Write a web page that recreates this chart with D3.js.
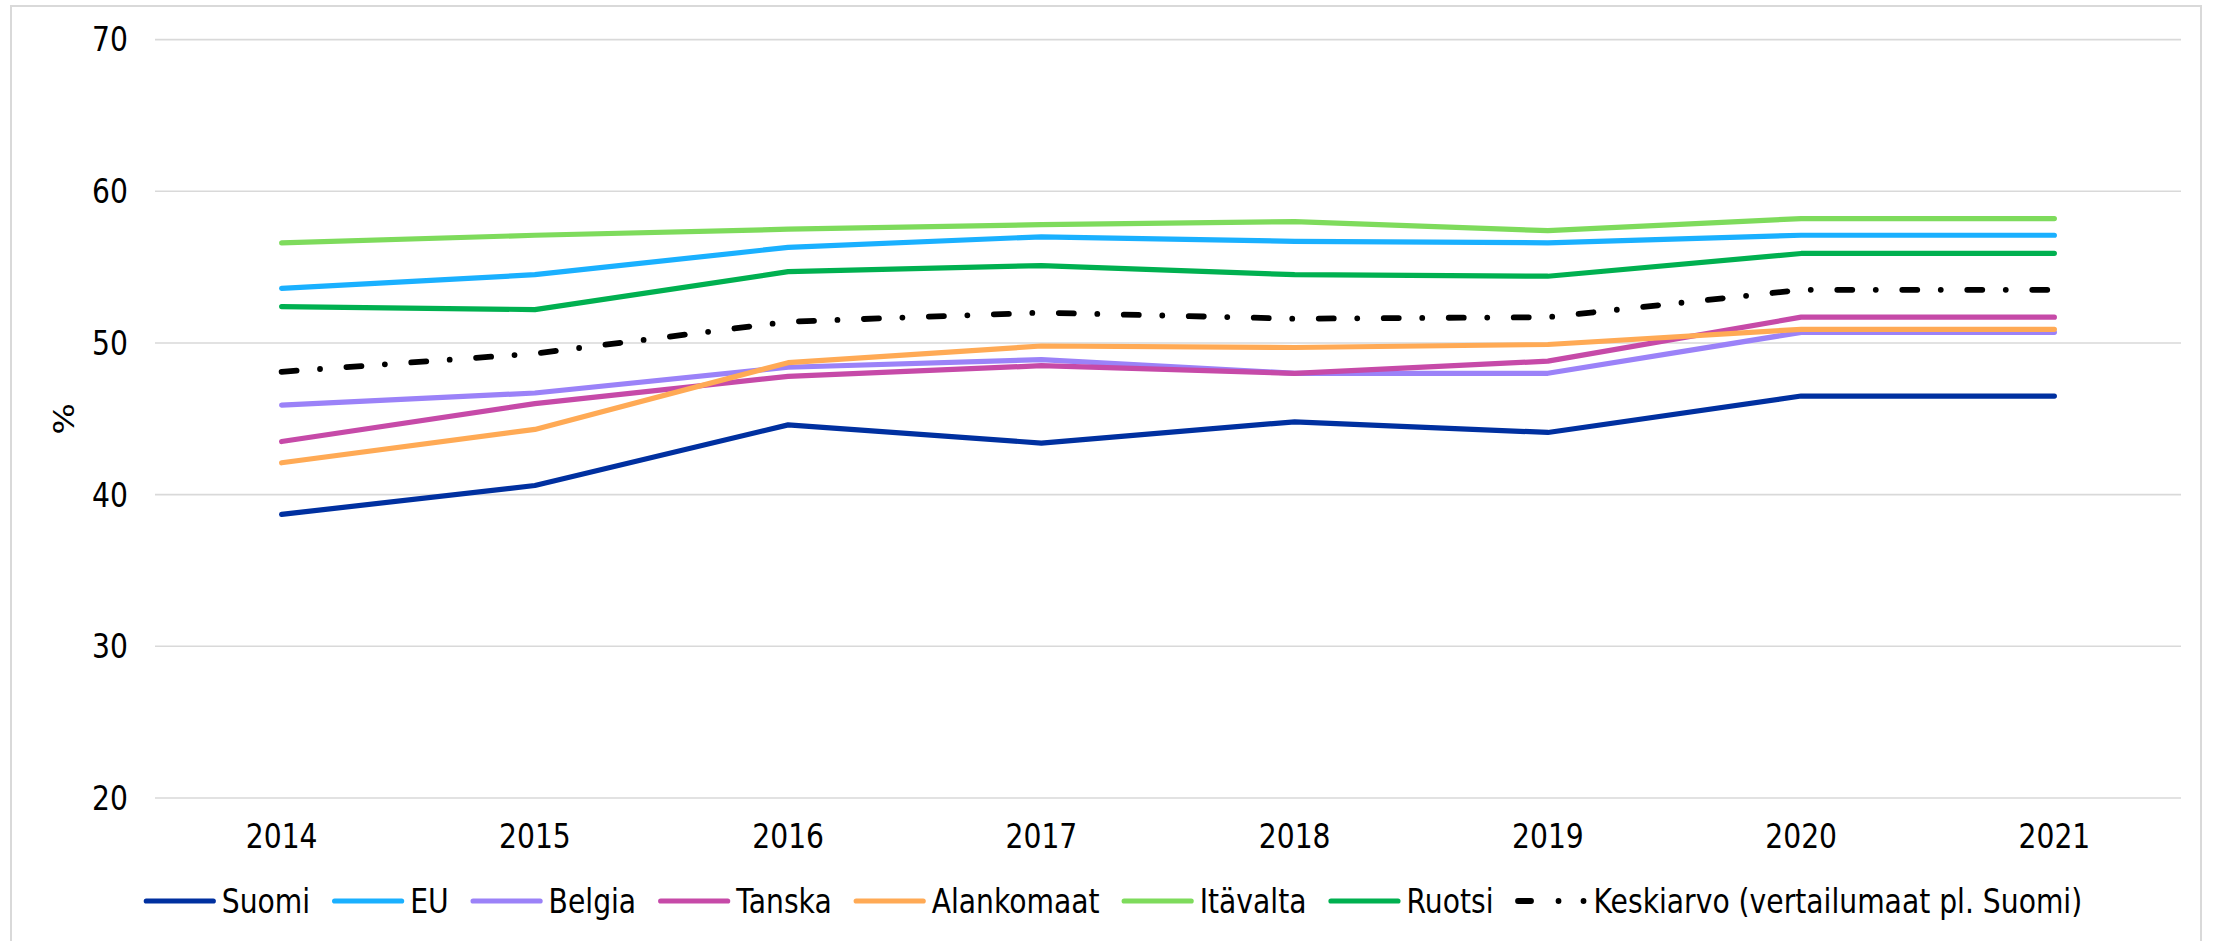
<!DOCTYPE html>
<html lang="fi">
<head>
<meta charset="utf-8">
<script src="https://cdn.jsdelivr.net/npm/d3@7"></script>
<style>
  html, body { margin: 0; padding: 0; background: #fff; }
  svg { display: block; }
  text { font-family: "DejaVu Sans", Verdana, sans-serif; fill: #000; }
</style>
</head>
<body>
<svg id="chart" width="2216" height="941"></svg>
<script>
// Years on the category axis
const years = ["2014", "2015", "2016", "2017", "2018", "2019", "2020", "2021"];

// Shares (%) per country / group
const suomi      = [38.7, 40.6, 44.6, 43.4, 44.8, 44.1, 46.5, 46.5];
const eu         = [53.6, 54.5, 56.3, 57.0, 56.7, 56.6, 57.1, 57.1];
const belgia     = [45.9, 46.7, 48.4, 48.9, 48.0, 48.0, 50.7, 50.7];
const tanska     = [43.5, 46.0, 47.8, 48.5, 48.0, 48.8, 51.7, 51.7];
const alankomaat = [42.1, 44.3, 48.7, 49.8, 49.7, 49.9, 50.9, 50.9];
const itavalta   = [56.6, 57.1, 57.5, 57.8, 58.0, 57.4, 58.2, 58.2];
const ruotsi     = [52.4, 52.2, 54.7, 55.1, 54.5, 54.4, 55.9, 55.9];
const keskiarvo  = [48.1, 49.3, 51.4, 52.0, 51.6, 51.7, 53.5, 53.5];

const yTicks = [20, 30, 40, 50, 60, 70];

const series = [
  { name: "Suomi", values: suomi, color: "#0030A0" },
  { name: "EU", values: eu, color: "#1AB0FF" },
  { name: "Belgia", values: belgia, color: "#9B82F8" },
  { name: "Tanska", values: tanska, color: "#C64AA8" },
  { name: "Alankomaat", values: alankomaat, color: "#FFAA55" },
  { name: "Itävalta", values: itavalta, color: "#7EDB5C" },
  { name: "Ruotsi", values: ruotsi, color: "#00B050" },
  { name: "Keskiarvo (vertailumaat pl. Suomi)", values: keskiarvo, color: "#000000", dash: "15,23.5,0,26.5" }
];

const svg = d3.select("#chart");
const FONT = 33, SX = 0.855;
const plot = { left: 155, right: 2181, top: 39.6, bottom: 798 };

// outer chart border
svg.append("rect")
  .attr("x", 11).attr("y", 6).attr("width", 2190).attr("height", 945)
  .attr("fill", "none").attr("stroke", "#d9d9d9").attr("stroke-width", 2);

const x = d3.scaleBand().domain(years).range([plot.left, plot.right]);
const cx = d => x(d) + x.bandwidth() / 2;
const y = d3.scaleLinear().domain([20, 70]).range([plot.bottom, plot.top]);

// horizontal gridlines
svg.append("g").selectAll("line").data(yTicks).join("line")
  .attr("x1", plot.left).attr("x2", plot.right)
  .attr("y1", d => y(d)).attr("y2", d => y(d))
  .attr("stroke", "#d9d9d9").attr("stroke-width", 1.6);

// y tick labels
svg.append("g").selectAll("text").data(yTicks).join("text")
  .attr("transform", d => `translate(128,${y(d)}) scale(${SX},1)`)
  .attr("text-anchor", "end").attr("dy", "0.36em")
  .attr("font-size", FONT).text(d => d);

// x tick labels
svg.append("g").selectAll("text").data(years).join("text")
  .attr("transform", d => `translate(${cx(d)},836) scale(${SX},1)`)
  .attr("text-anchor", "middle").attr("dy", "0.36em")
  .attr("font-size", FONT).text(d => d);

// y axis title
svg.append("text")
  .attr("transform", `translate(64,${(plot.top + plot.bottom) / 2}) scale(${SX},1) rotate(-90)`)
  .attr("text-anchor", "middle").attr("dy", "0.36em")
  .attr("font-size", FONT).text("%");

// series lines
const line = d3.line().x((d, i) => cx(years[i])).y(d => y(d));
svg.append("g").selectAll("path").data(series).join("path")
  .attr("d", d => line(d.values))
  .attr("fill", "none")
  .attr("stroke", d => d.color)
  .attr("stroke-width", d => d.dash ? 5.8 : 5.2)
  .attr("stroke-linecap", "round")
  .attr("stroke-linejoin", "round")
  .attr("stroke-dasharray", d => d.dash || null);

// legend
const legend = svg.append("g");
const sampleLen = 72, sampleGap = 6, itemGap = 22, legY = 901;
let pos = 0;
const items = [];
series.forEach(s => {
  const g = legend.append("g");
  g.append("line")
    .attr("x1", 2.5).attr("x2", sampleLen - 2.5).attr("y1", 0).attr("y2", 0)
    .attr("stroke", s.color).attr("stroke-width", s.dash ? 5.8 : 5.2)
    .attr("stroke-linecap", "round")
    .attr("stroke-dasharray", s.dash ? "13,27.5,0,25,0,100" : null);
  const t = g.append("text")
    .attr("transform", `translate(${sampleLen + sampleGap},0) scale(${SX},1)`)
    .attr("dy", "0.36em").attr("font-size", FONT).text(s.name);
  const w = t.node().getComputedTextLength() * SX;
  items.push({ g, offset: pos });
  pos += sampleLen + sampleGap + w + itemGap;
});
const total = pos - itemGap;
const start = 1113 - total / 2;
items.forEach(it => it.g.attr("transform", `translate(${start + it.offset},${legY})`));
</script>
</body>
</html>
